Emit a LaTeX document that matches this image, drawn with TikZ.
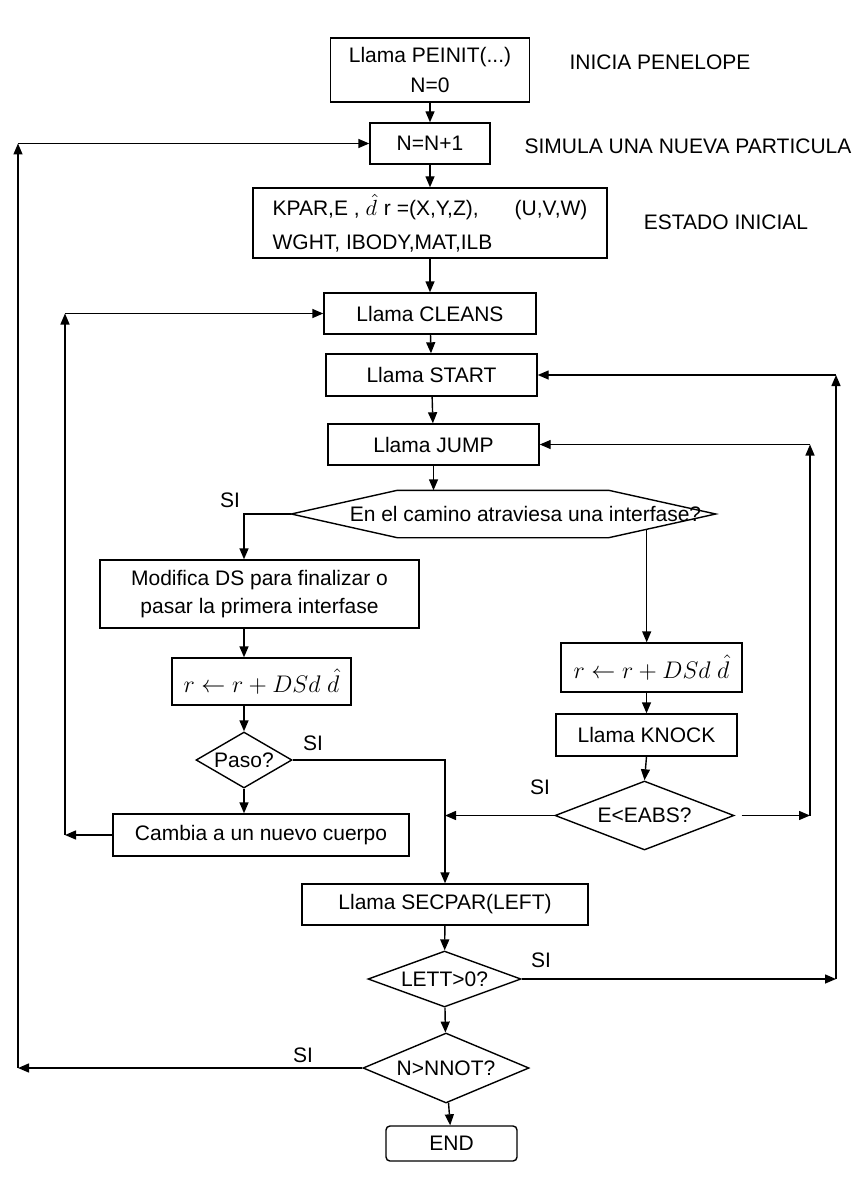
\documentclass[tikz,border=0pt]{standalone}
\usepackage{fontspec}
\setmainfont{Liberation Sans}
\usetikzlibrary{arrows.meta,shapes.geometric,calc}

\begin{document}
\begin{tikzpicture}[x=0.5pt, y=-0.5pt, >={Triangle[length=5.5pt,width=4.5pt]}, line width=0.7pt, font=\fontsize{10.5}{13}\selectfont]
  % Styles
  \tikzstyle{box}=[draw, inner sep=2pt, align=center]
  \tikzstyle{formula}=[draw, inner sep=2pt, font=\large]
  \tikzstyle{dec}=[draw, diamond, inner sep=0pt, align=center]
  \tikzstyle{lab}=[inner sep=0pt]

  \useasboundingbox (0,0) rectangle (852,1198);

  % Start of the run
  \node[box, minimum width=99.5pt, minimum height=32pt] (peinit) at (430,70) {Llama PEINIT(...)\\[2pt]N=0};
  \node[lab] (inicia) at (660,62) {INICIA PENELOPE};
  \node[box, minimum width=60pt, minimum height=20.5pt] (nn1) at (430,143.5) {N=N+1};
  \node[lab] (simula) at (688,146) {SIMULA UNA NUEVA PARTICULA};
  \node[box, align=left, minimum width=177pt, minimum height=35pt] (estado) at (430,223)
    {KPAR,E , $\hat{d}$\,\,r =(X,Y,Z),\hspace{18pt}(U,V,W)\\[4pt]WGHT, IBODY,MAT,ILB};
  \node[lab] (estadolab) at (726,222) {ESTADO INICIAL};

  % Main loop
  \node[box, minimum width=106pt, minimum height=20.5pt] (cleans) at (430,313.5) {Llama CLEANS};
  \node[box, minimum width=105.5pt, minimum height=21pt] (start) at (431.5,375) {Llama START};
  \node[box, minimum width=105.5pt, minimum height=20.5pt] (jump) at (433.5,444.5) {Llama JUMP};
  \node[minimum width=211.5pt, minimum height=23pt, inner sep=0pt] (cross) at (503.5,514) {\hspace*{22pt}En el camino atraviesa una interfase?};
  \draw (cross.west) -- ([xshift=53pt]cross.north west) -- ([xshift=-53.5pt]cross.north east) -- (cross.east)
    -- ([xshift=-53.5pt]cross.south east) -- ([xshift=53pt]cross.south west) -- cycle;
  \node[lab] (sicross) at (230,500) {SI};

  % Left branch
  \node[box, minimum width=159.5pt, minimum height=34pt] (modifica) at (259.5,594) {Modifica DS para finalizar o\\[1pt]pasar la primera interfase};
  \node[formula, minimum width=89.5pt, minimum height=23.5pt] (ra) at (261.5,681.5) {$r \leftarrow r + DSd\;\hat{d}$};
  \node[dec, aspect=1.7, minimum width=48pt, minimum height=28pt] (paso) at (244,760) {Paso?};
  \node[lab] (sipaso) at (313,743) {SI};
  \node[box, minimum width=148pt, minimum height=21pt] (cambia) at (261,835) {Cambia a un nuevo cuerpo};

  % Right branch
  \node[formula, minimum width=90.5pt, minimum height=24.5pt] (rb) at (651.5,667.5) {$r \leftarrow r + DSd\;\hat{d}$};
  \node[box, minimum width=90.5pt, minimum height=21pt] (knock) at (646.5,735) {Llama KNOCK};
  \node[dec, aspect=2.6, minimum width=89.5pt, minimum height=34.5pt] (eabs) at (644.5,815.5) {E<EABS?};
  \node[lab] (sieabs) at (540,787) {SI};

  % Secondary particles and end
  \node[box, minimum width=143pt, minimum height=20.5pt] (secpar) at (445,904.5) {Llama SECPAR(LEFT)};
  \node[dec, aspect=2.7, minimum width=76.5pt, minimum height=28pt] (lett) at (444.5,979) {LETT>0?};
  \node[lab] (silett) at (541,960) {SI};
  \node[dec, aspect=2.4, minimum width=83pt, minimum height=35pt] (nnot) at (446,1068) {N>NNOT?};
  \node[lab] (sinnot) at (303,1055) {SI};
  \node[box, rounded corners=2pt, minimum width=65.5pt, minimum height=17.5pt] (endbox) at (451.5,1143.5) {END};

  % Return lines
  \coordinate (xa) at (18,0);
  \coordinate (xb) at (65,0);
  \coordinate (xc) at (810,0);
  \coordinate (xd) at (836,0);
  \coordinate (crossout) at ($(cross.east)!0.645!([xshift=-53.5pt]cross.south east)$);

  % Straight flow
  \draw[->] (peinit) -- (nn1);
  \draw[->] (nn1) -- (estado);
  \draw[->] (estado) -- (cleans);
  \draw[->] (cleans) -- (start);
  \draw[->] (start) -- (jump);
  \draw[->] (jump.south) -- (jump.south |- cross.north);
  \draw[->] (cross.west) -| (paso |- modifica.north);
  \draw[->] (paso |- modifica.south) -- (paso |- ra.north);
  \draw[->] (paso |- ra.south) -- (paso.north);
  \draw[->] (paso.south) -- (paso |- cambia.north);
  \draw[->] (paso.east) -| (secpar.north);
  \draw[->] (crossout) -- (crossout |- rb.north);
  \draw[->] (knock |- rb.south) -- (knock.north);
  \draw[->] (knock.south) -- (eabs.north);
  \draw[->] (eabs.west) -- (secpar |- eabs);
  \draw[->] (secpar) -- (lett);
  \draw[->] (lett) -- (nnot);
  \draw[->] (nnot) -- (endbox);

  % Loops
  \draw[->] (nnot.west) -- (xa |- nnot);
  \draw[->] (xa |- nnot) -- (xa |- nn1);
  \draw[->] (xa |- nn1) -- (nn1.west);
  \draw[->] (cambia.west) -- (xb |- cambia);
  \draw[->] (xb |- cambia) -- (xb |- cleans);
  \draw[->] (xb |- cleans) -- (cleans.west);
  \draw[->, shorten <=3.5pt] (eabs.east) -- (xc |- eabs);
  \draw[->] (xc |- eabs) -- (xc |- jump);
  \draw[->] (xc |- jump) -- (jump.east);
  \draw[->] (lett.east) -- (xd |- lett);
  \draw[->] (xd |- lett) -- (xd |- start);
  \draw[->] (xd |- start) -- (start.east);
\end{tikzpicture}
\end{document}
